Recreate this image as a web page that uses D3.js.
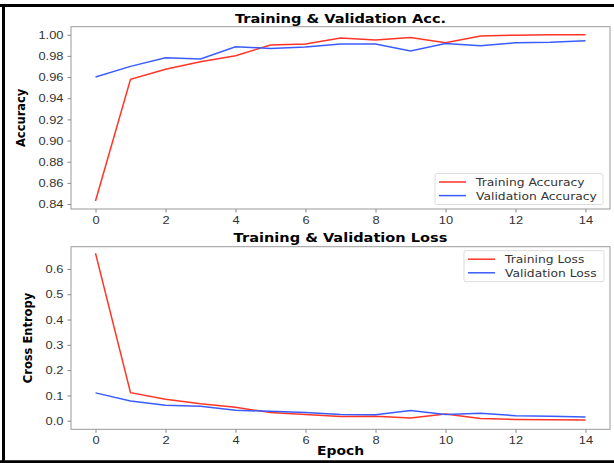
<!DOCTYPE html>
<html>
<head>
<meta charset="utf-8">
<script src="https://cdn.jsdelivr.net/npm/d3@7"></script>
<style>
  body { margin: 0; background: #fff; }
  svg { display: block; font-family: "DejaVu Sans", sans-serif; }
</style>
</head>
<body>
<div id="chart"></div>
<script>
// epochs and history values
var epochs = d3.range(0, 15);
var trainAcc = [0.8428, 0.9578, 0.9673, 0.9745, 0.9802, 0.9903, 0.9912, 0.9969, 0.9950, 0.9975, 0.9924, 0.9988, 0.9996, 0.9999, 0.9999];
var valAcc = [0.9600, 0.9701, 0.9783, 0.9770, 0.9887, 0.9871, 0.9885, 0.9912, 0.9912, 0.9846, 0.9918, 0.9896, 0.9924, 0.9928, 0.9943];
var trainLoss = [0.662, 0.111, 0.085, 0.067, 0.053, 0.032, 0.025, 0.017, 0.018, 0.011, 0.026, 0.009, 0.005, 0.004, 0.003];
var valLoss = [0.110, 0.078, 0.061, 0.057, 0.041, 0.037, 0.032, 0.025, 0.024, 0.040, 0.025, 0.029, 0.020, 0.018, 0.015];
var xTicks = [0, 2, 4, 6, 8, 10, 12, 14];
var accTicks = [0.84, 0.86, 0.88, 0.90, 0.92, 0.94, 0.96, 0.98, 1.00];
var lossTicks = [0, 0.1, 0.2, 0.3, 0.4, 0.5, 0.6];

var svgWidth = 614;
var svgHeight = 463;
var stretch = 1.12; // the picture is a bit wider than tall

var red = "#ff3526";
var blue = "#3a5cff";

var svg = d3.select("#chart")
    .append("svg")
    .attr("width", svgWidth)
    .attr("height", svgHeight);

// black frame round the figure
svg.append("path")
    .attr("d", "M0,5.5 H614 M3.5,4 V463 M0,461.8 H614")
    .attr("fill", "none")
    .attr("stroke", "#000")
    .attr("stroke-width", 3);

var x = d3.scaleLinear().domain([-0.7, 14.7]).range([71, 610]);

function drawPanel(opts) {
    var y = d3.scaleLinear().domain(opts.domain).range([opts.bottom, opts.top]);
    var g = svg.append("g");

    // plot frame
    g.append("rect")
        .attr("x", 71)
        .attr("y", opts.top)
        .attr("width", 539)
        .attr("height", opts.bottom - opts.top)
        .attr("fill", "#fff")
        .attr("stroke", "#999")
        .attr("stroke-width", 1);

    var xa = g.append("g")
        .attr("transform", `translate(0, ${opts.bottom})`)
        .call(d3.axisBottom(x).tickValues(xTicks).tickSize(3.5).tickPadding(3));
    var ya = g.append("g")
        .attr("transform", "translate(71, 0)")
        .call(d3.axisLeft(y).tickValues(opts.ticks).tickFormat(d3.format(opts.fmt)).tickSize(3.5).tickPadding(4));

    [xa, ya].forEach(function(a) {
        a.select(".domain").remove();
        a.selectAll("line").attr("stroke", "#888");
        a.selectAll("text")
            .attr("fill", "#333")
            .style("font-size", "11.5px");
    });
    xa.selectAll("text").attr("transform", `scale(${stretch},1)`);
    ya.selectAll("text")
        .attr("x", -7.5 / stretch)
        .attr("transform", `scale(${stretch},1)`);

    var line = d3.line().x((d, i) => x(epochs[i])).y(d => y(d));
    g.append("path").datum(opts.train)
        .attr("d", line).attr("fill", "none").attr("stroke", red).attr("stroke-width", 1.5);
    g.append("path").datum(opts.val)
        .attr("d", line).attr("fill", "none").attr("stroke", blue).attr("stroke-width", 1.5);

    // title
    g.append("text")
        .attr("transform", `translate(340.5, ${opts.titleY}) scale(${stretch},1)`)
        .attr("text-anchor", "middle")
        .style("font-size", "13px")
        .style("font-weight", "bold")
        .text(opts.title);

    // y label
    g.append("text")
        .attr("transform", `translate(${opts.ylabelX}, ${(opts.top + opts.bottom) / 2}) rotate(-90) scale(1,${stretch})`)
        .attr("text-anchor", "middle")
        .style("font-size", "11.5px")
        .style("font-weight", "bold")
        .text(opts.ylabel);

    // legend
    var lg = g.append("g").attr("transform", `translate(${opts.legend[0]}, ${opts.legend[1]})`);
    lg.append("rect")
        .attr("width", opts.legend[2]).attr("height", 31)
        .attr("rx", 2)
        .attr("fill", "#fff").attr("fill-opacity", 0.8)
        .attr("stroke", "#ddd");
    [[opts.names[0], red], [opts.names[1], blue]].forEach(function(item, i) {
        lg.append("line")
            .attr("x1", 4).attr("x2", 31)
            .attr("y1", 8.5 + i * 13.6).attr("y2", 8.5 + i * 13.6)
            .attr("stroke", item[1]).attr("stroke-width", 1.5);
        lg.append("text")
            .attr("transform", `translate(41, ${12.5 + i * 13.6}) scale(${stretch},1)`)
            .attr("fill", "#333")
            .style("font-size", "11px")
            .text(item[0]);
    });
}

drawPanel({
    top: 26.7, bottom: 209,
    domain: [0.8353, 1.0076],
    ticks: accTicks, fmt: ".2f",
    train: trainAcc, val: valAcc,
    title: "Training & Validation Acc.", titleY: 22.5,
    ylabel: "Accuracy", ylabelX: 25,
    legend: [435, 173.5, 168],
    names: ["Training Accuracy", "Validation Accuracy"]
});

drawPanel({
    top: 246.7, bottom: 429.3,
    domain: [-0.034, 0.688],
    ticks: lossTicks, fmt: ".1f",
    train: trainLoss, val: valLoss,
    title: "Training & Validation Loss", titleY: 242,
    ylabel: "Cross Entropy", ylabelX: 32,
    legend: [464, 250.7, 140],
    names: ["Training Loss", "Validation Loss"]
});

// x label
svg.append("text")
    .attr("transform", `translate(340.5, 455) scale(${stretch},1)`)
    .attr("text-anchor", "middle")
    .style("font-size", "12.4px")
    .style("font-weight", "bold")
    .text("Epoch");
</script>
</body>
</html>
